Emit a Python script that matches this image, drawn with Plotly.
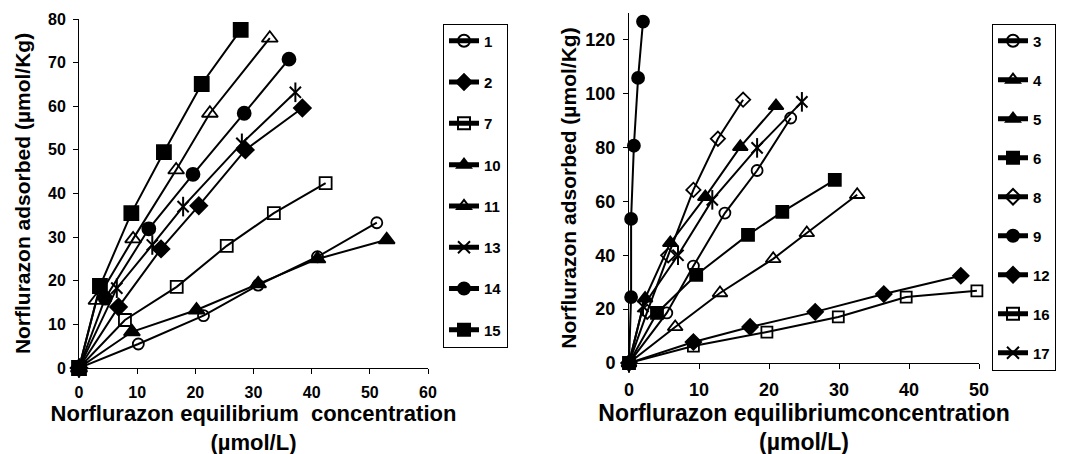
import plotly.graph_objects as go

# ---------- data: left panel ----------
left_names = ["1", "2", "7", "10", "11", "13", "14", "15"]
s1_x = [0, 10.2, 21.4, 30.8, 41.0, 51.2];  s1_y = [0, 5.5, 12.0, 19.0, 25.5, 33.3]
s2_x = [0, 6.8, 14.1, 20.6, 28.6, 38.4];   s2_y = [0, 14.0, 27.3, 37.2, 50.0, 59.6]
s7_x = [0, 7.9, 16.8, 25.4, 33.5, 42.4];   s7_y = [0, 11.0, 18.6, 28.0, 35.5, 42.4]
s10_x = [0, 9.1, 20.2, 30.8, 41.0, 52.9];  s10_y = [0, 8.3, 13.3, 19.3, 25.0, 29.4]
s11_x = [0, 3.0, 9.3, 16.7, 22.5, 32.8];   s11_y = [0, 15.5, 29.6, 45.4, 58.4, 75.6]
s13_x = [0, 6.5, 12.6, 17.9, 28.0, 37.2];  s13_y = [0, 18.3, 28.2, 37.0, 51.5, 63.2]
s14_x = [0, 4.5, 12.0, 19.6, 28.4, 36.1];  s14_y = [0, 16.0, 31.9, 44.4, 58.4, 70.8]
s15_x = [0, 3.6, 9.0, 14.6, 21.1, 27.8];   s15_y = [0, 18.8, 35.5, 49.5, 65.1, 77.5]

# ---------- data: right panel ----------
right_names = ["3", "4", "5", "6", "8", "9", "12", "16", "17"]
s3_x = [0, 5.4, 9.2, 13.7, 18.3, 23.1];    s3_y = [0, 18.6, 36.0, 55.7, 71.5, 91.0]
s4_x = [0, 6.6, 13.0, 20.6, 25.4, 32.6];   s4_y = [0, 13.4, 26.0, 38.7, 48.3, 62.5]
s5_x = [0, 2.3, 5.9, 10.9, 15.9, 21.0];    s5_y = [0, 24.0, 44.6, 61.7, 80.3, 95.5]
s6_x = [0, 4.0, 9.6, 17.0, 21.9, 29.4];    s6_y = [0, 18.6, 32.7, 47.6, 56.1, 68.0]
s8_x = [0, 2.6, 5.6, 9.2, 12.7, 16.3];     s8_y = [0, 19.0, 40.0, 64.3, 83.3, 97.8]
s9_x = [0, 0.3, 0.3, 0.7, 1.3, 2.0];       s9_y = [0, 24.5, 53.5, 80.7, 105.9, 126.8]
s12_x = [0, 9.2, 17.3, 26.6, 36.4, 47.4];  s12_y = [0, 7.8, 13.4, 19.0, 25.6, 32.4]
s16_x = [0, 9.2, 19.7, 29.9, 39.6, 49.7];  s16_y = [0, 6.3, 11.5, 17.1, 24.5, 26.8]
s17_x = [0, 2.0, 7.0, 11.9, 18.3, 24.7];   s17_y = [0, 21.0, 40.0, 60.6, 79.9, 97.0]

left_ticks = [0, 10, 20, 30, 40, 50, 60]
left_yticks = [0, 10, 20, 30, 40, 50, 60, 70, 80]
right_ticks = [0, 10, 20, 30, 40, 50]
right_yticks = [0, 20, 40, 60, 80, 100, 120]

FONT = "Arial, 'Liberation Sans', sans-serif"

left_series = [
    ("1", s1_x, s1_y, "circle-open", 11),
    ("2", s2_x, s2_y, "diamond", 13),
    ("7", s7_x, s7_y, "square-open", 12),
    ("10", s10_x, s10_y, "triangle-up", 14),
    ("11", s11_x, s11_y, "triangle-up-open", 14),
    ("13", s13_x, s13_y, "star", 14),
    ("14", s14_x, s14_y, "circle", 13),
    ("15", s15_x, s15_y, "square", 14),
]
right_series = [
    ("3", s3_x, s3_y, "circle-open", 11),
    ("4", s4_x, s4_y, "triangle-up-open", 13),
    ("5", s5_x, s5_y, "triangle-up", 13),
    ("6", s6_x, s6_y, "square", 12),
    ("8", s8_x, s8_y, "diamond-open", 11),
    ("9", s9_x, s9_y, "circle", 12),
    ("12", s12_x, s12_y, "diamond", 12),
    ("16", s16_x, s16_y, "square-open", 11),
    ("17", s17_x, s17_y, "star", 14),
]

fig = go.Figure()


def add_series(series, xa, ya, legend):
    for name, xs, ys, sym, size in series:
        if sym == "star":
            fig.add_trace(go.Scatter(
                x=xs, y=ys, mode="lines+markers", name=name,
                legend=legend, legendgroup=legend + name,
                line=dict(color="black", width=2),
                marker=dict(symbol="x-thin-open", size=size * 0.8, color="black",
                            line=dict(color="black", width=2)),
                xaxis=xa, yaxis=ya, cliponaxis=False))
            fig.add_trace(go.Scatter(
                x=xs, y=ys, mode="markers", showlegend=False,
                legendgroup=legend + name,
                marker=dict(symbol="line-ns-open", size=size, color="black",
                            line=dict(color="black", width=2)),
                xaxis=xa, yaxis=ya, cliponaxis=False, hoverinfo="skip"))
        else:
            fig.add_trace(go.Scatter(
                x=xs, y=ys, mode="lines+markers", name=name,
                legend=legend, legendgroup=legend + name,
                line=dict(color="black", width=2),
                marker=dict(symbol=sym, size=size, color="black",
                            line=dict(color="black", width=1.8)),
                xaxis=xa, yaxis=ya, cliponaxis=False))


add_series(left_series, "x", "y", "legend")
add_series(right_series, "x2", "y2", "legend2")

W, H = 1066, 454
OFF = 8  # page body margin offset


def px_x(p):
    return (p - OFF) / W


def px_y(p):
    return 1 - (p - OFF) / H


axis_common = dict(
    showgrid=False, zeroline=False, showline=True, linecolor="black", linewidth=1,
    ticks="outside", ticklen=5, tickcolor="black", tickwidth=1,
    automargin=False,
)

fig.update_layout(
    width=W, height=H,
    margin=dict(l=0, r=0, t=0, b=0, autoexpand=False),
    paper_bgcolor="white", plot_bgcolor="white",
    font=dict(family=FONT, color="black", size=15, weight="bold"),
    xaxis=dict(
        **axis_common, domain=[px_x(79), px_x(428)], range=[0, 60],
        tickvals=left_ticks, ticklabelstandoff=5,
        tickfont=dict(family=FONT, size=16, weight="bold"),
        title=dict(text="Norflurazon equilibrium  concentration<br>(µmol/L)",
                   font=dict(family=FONT, size=22, weight="bold"), standoff=3),
        anchor="y",
    ),
    yaxis=dict(
        **axis_common, domain=[px_y(368), px_y(19)], range=[0, 80],
        tickvals=left_yticks, ticklabelstandoff=4,
        tickfont=dict(family=FONT, size=16, weight="bold"),
        title=dict(text="Norflurazon adsorbed (µmol/Kg)",
                   font=dict(family=FONT, size=21, weight="bold"), standoff=11),
        anchor="x",
    ),
    xaxis2=dict(
        **axis_common, domain=[px_x(629), px_x(979)], range=[0, 50],
        tickvals=right_ticks, ticklabelstandoff=5,
        tickfont=dict(family=FONT, size=18, weight="bold"),
        title=dict(text="Norflurazon equilibriumconcentration<br>(µmol/L)",
                   font=dict(family=FONT, size=23, weight="bold"), standoff=0),
        anchor="y2",
    ),
    yaxis2=dict(
        **axis_common, domain=[px_y(363), px_y(13)], range=[0, 130],
        tickvals=right_yticks, ticklabelstandoff=4,
        tickfont=dict(family=FONT, size=18, weight="bold"),
        title=dict(text="Norflurazon adsorbed (µmol/Kg)",
                   font=dict(family=FONT, size=21, weight="bold"), standoff=3),
        anchor="x2",
    ),
    legend=dict(
        x=px_x(443), y=px_y(23.5), xanchor="left", yanchor="top",
        bgcolor="white", bordercolor="black", borderwidth=1,
        font=dict(family=FONT, size=15, weight="bold"),
        itemsizing="constant", traceorder="grouped", tracegroupgap=18.8,
        itemwidth=30,
    ),
    legend2=dict(
        x=px_x(992), y=px_y(23.5), xanchor="left", yanchor="top",
        bgcolor="white", bordercolor="black", borderwidth=1,
        font=dict(family=FONT, size=15, weight="bold"),
        itemsizing="constant", traceorder="grouped", tracegroupgap=16.5,
        itemwidth=30,
    ),
)

fig.write_html("out.html")
